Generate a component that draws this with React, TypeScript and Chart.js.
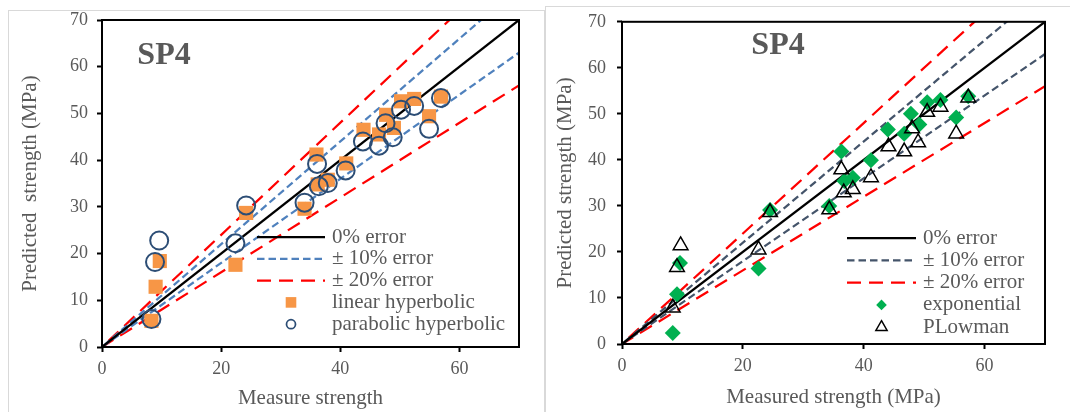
import React, { useEffect, useRef } from 'react';
import { Chart, registerables } from 'chart.js';

Chart.register(...registerables);

const FONT = '"Liberation Serif", "Times New Roman", serif';
const GREY = '#595959';

// ---------- data ----------
const axisMin = 0;
const axisMax = 70;
const xTickValues = [0, 20, 40, 60];
const yTickValues = [0, 10, 20, 30, 40, 50, 60, 70];

// reference lines (measured, predicted)
const zeroErrorLine = [[0, 0], [70, 70]];
const tenPercentLines = [[70, 77], [0, 0], [70, 63]];
const twentyPercentLines = [[70, 84], [0, 0], [70, 56]];

// left panel: linear hyperbolic (squares)
const linearHyperbolicX = [8.3, 9.0, 9.7, 22.4, 24.2, 34.0, 36.0, 36.2, 37.9, 41.0, 43.9, 46.5, 47.7, 49.0, 50.2, 52.4, 54.9, 56.9];
const linearHyperbolicY = [5.6, 12.9, 18.4, 17.6, 28.7, 29.6, 41.2, 34.8, 35.8, 39.3, 46.5, 45.5, 49.7, 46.9, 52.6, 53.1, 49.4, 53.6];

// left panel: parabolic hyperbolic (circles)
const parabolicHyperbolicX = [8.3, 8.9, 9.6, 22.4, 24.2, 34.0, 36.1, 36.4, 37.9, 40.9, 43.8, 46.5, 47.6, 48.8, 50.2, 52.4, 54.9, 56.9];
const parabolicHyperbolicY = [6.0, 18.2, 22.8, 22.2, 30.3, 30.9, 39.2, 34.4, 35.1, 37.8, 44.0, 43.1, 47.9, 44.9, 50.8, 51.6, 46.7, 53.3];

// right panel: exponential (diamonds)
const exponentialX = [8.4, 9.1, 9.6, 22.6, 24.5, 34.3, 36.3, 36.8, 38.2, 41.2, 44.0, 46.7, 47.8, 49.2, 50.5, 52.7, 55.3, 57.3];
const exponentialY = [2.4, 10.8, 17.6, 16.4, 29.1, 30.0, 41.8, 35.4, 36.1, 39.9, 46.6, 45.7, 50.0, 47.7, 52.5, 53.0, 49.2, 53.8];

// right panel: PLowman (triangles)
const plowmanX = [8.4, 9.1, 9.7, 22.6, 24.5, 34.3, 36.3, 36.7, 38.2, 41.2, 44.1, 46.7, 48.0, 49.0, 50.5, 52.7, 55.3, 57.3];
const plowmanY = [7.9, 16.7, 21.4, 20.5, 28.6, 29.2, 37.9, 32.9, 33.6, 36.2, 42.9, 41.8, 46.8, 43.8, 50.4, 51.5, 45.7, 53.5];

const toXY = (pairs: number[][]) => pairs.map(([x, y]) => ({ x, y }));
const zip = (xs: number[], ys: number[]) => xs.map((x, i) => ({ x, y: ys[i] }));

// ---------- drawing helpers ----------
function drawMarker(ctx: CanvasRenderingContext2D, style: string, x: number, y: number, r: number, fill: string, stroke: string, bw: number) {
  ctx.save();
  ctx.setLineDash([]);
  ctx.beginPath();
  if (style === 'rect') {
    const s = r * Math.SQRT1_2;
    ctx.rect(x - s, y - s, 2 * s, 2 * s);
  } else if (style === 'rectRot') {
    ctx.moveTo(x - r, y);
    ctx.lineTo(x, y - r);
    ctx.lineTo(x + r, y);
    ctx.lineTo(x, y + r);
    ctx.closePath();
  } else if (style === 'triangle') {
    ctx.moveTo(x, y - r);
    ctx.lineTo(x + r * 0.866, y + r * 0.5);
    ctx.lineTo(x - r * 0.866, y + r * 0.5);
    ctx.closePath();
  } else {
    ctx.arc(x, y, r, 0, Math.PI * 2);
  }
  if (fill && fill !== 'transparent') {
    ctx.fillStyle = fill;
    ctx.fill();
  }
  if (bw > 0) {
    ctx.strokeStyle = stroke;
    ctx.lineWidth = bw;
    ctx.stroke();
  }
  ctx.restore();
}

const decorPlugin = {
  id: 'decor',
  afterDraw(chart: any, _args: any, opts: any) {
    const ctx: CanvasRenderingContext2D = chart.ctx;
    const a = chart.chartArea;
    ctx.save();
    // plot frame
    ctx.strokeStyle = '#000';
    ctx.lineWidth = 2;
    ctx.setLineDash([]);
    ctx.strokeRect(a.left, a.top, a.right - a.left, a.bottom - a.top);
    // panel title
    ctx.fillStyle = GREY;
    ctx.font = `bold 32px ${FONT}`;
    ctx.textAlign = 'center';
    ctx.textBaseline = 'middle';
    ctx.fillText(opts.title, opts.titleX, opts.titleY);
    // legend
    const lg = opts.legend;
    chart.data.datasets.forEach((ds: any, i: number) => {
      const y = lg.y + i * lg.rowGap;
      if (ds.showLine) {
        ctx.save();
        ctx.strokeStyle = ds.borderColor;
        ctx.lineWidth = ds.borderWidth;
        ctx.setLineDash(ds.borderDash || []);
        ctx.beginPath();
        ctx.moveTo(lg.lineX0, y);
        ctx.lineTo(lg.lineX1, y);
        ctx.stroke();
        ctx.restore();
      } else {
        drawMarker(ctx, ds.pointStyle, (lg.lineX0 + lg.lineX1) / 2, y, ds.legendRadius, ds.pointBackgroundColor, ds.pointBorderColor, ds.legendBorderWidth);
      }
      ctx.fillStyle = GREY;
      ctx.font = `21px ${FONT}`;
      ctx.textAlign = 'left';
      ctx.textBaseline = 'middle';
      ctx.fillText(ds.label, lg.textX, y);
    });
    ctx.restore();
  },
};

function lineDataset(label: string, pairs: number[][], color: string, dash: number[]) {
  return {
    type: 'line',
    label,
    data: toXY(pairs),
    showLine: true,
    borderColor: color,
    borderWidth: 2.25,
    borderDash: dash,
    pointRadius: 0,
    fill: false,
    order: 5,
  };
}

function scatterDataset(label: string, data: any[], style: string, radius: number, fill: string, stroke: string, bw: number, order: number, legendRadius: number, legendBorderWidth: number) {
  return {
    type: 'scatter',
    label,
    data,
    showLine: false,
    pointStyle: style,
    pointRadius: radius,
    pointHoverRadius: radius,
    pointBackgroundColor: fill,
    pointBorderColor: stroke,
    pointBorderWidth: bw,
    backgroundColor: fill,
    borderColor: stroke,
    order,
    legendRadius,
    legendBorderWidth,
  };
}

function makeConfig(spec: any, datasets: any[]) {
  const tickFont = { family: FONT, size: 18 };
  const titleFont = { family: FONT, size: 21 };
  return {
    type: 'scatter',
    data: { datasets },
    plugins: [decorPlugin],
    options: {
      animation: false,
      responsive: false,
      events: [],
      layout: { padding: spec.padding },
      plugins: {
        legend: { display: false },
        tooltip: { enabled: false },
        decor: spec.decor,
      },
      scales: {
        x: {
          type: 'linear',
          min: axisMin,
          max: axisMax,
          afterBuildTicks: (s: any) => {
            s.ticks = xTickValues.map((v) => ({ value: v }));
          },
          afterFit: (s: any) => {
            s.height = spec.xAxisHeight;
          },
          grid: { display: true, drawOnChartArea: false, drawTicks: true, tickLength: 5, tickColor: '#000', tickWidth: 2 },
          border: { display: false },
          ticks: { color: GREY, font: tickFont, padding: 6, maxRotation: 0, autoSkip: false },
          title: { display: true, text: spec.xTitle, color: GREY, font: titleFont, padding: { top: 0, bottom: spec.xTitlePad } },
        },
        y: {
          type: 'linear',
          min: axisMin,
          max: axisMax,
          afterBuildTicks: (s: any) => {
            s.ticks = yTickValues.map((v) => ({ value: v }));
          },
          afterFit: (s: any) => {
            s.width = spec.yAxisWidth;
          },
          grid: { display: true, drawOnChartArea: false, drawTicks: true, tickLength: 5, tickColor: '#000', tickWidth: 2 },
          border: { display: false },
          ticks: { color: GREY, font: tickFont, padding: spec.yTickPad, autoSkip: false },
          title: { display: true, text: spec.yTitle, color: GREY, font: titleFont, padding: { top: spec.yTitlePad, bottom: 0 } },
        },
      },
    },
  };
}

function ChartCanvas({ width, height, left, build }: { width: number; height: number; left: number; build: () => any }) {
  const ref = useRef<HTMLCanvasElement | null>(null);
  useEffect(() => {
    if (!ref.current) return;
    const chart = new Chart(ref.current, build());
    return () => chart.destroy();
  }, []);
  return <canvas ref={ref} width={width} height={height} style={{ position: 'absolute', left, top: 0, width, height }} />;
}

function buildLeft() {
  const datasets = [
    lineDataset('0% error', zeroErrorLine, '#000000', []),
    lineDataset('\u00b1 10% error', tenPercentLines, '#4f81bd', [7.5, 4]),
    lineDataset('\u00b1 20% error', twentyPercentLines, '#ff0000', [14, 8]),
    scatterDataset('linear hyperbolic', zip(linearHyperbolicX, linearHyperbolicY), 'rect', 10, '#f79646', '#f79646', 0, 2, 7.5, 0),
    scatterDataset('parabolic hyperbolic', zip(parabolicHyperbolicX, parabolicHyperbolicY), 'circle', 9, 'transparent', '#2c4d75', 2, 1, 4.5, 1.75),
  ];
  return makeConfig(
    {
      padding: { left: 0, right: 25, top: 20, bottom: 0 },
      xAxisHeight: 65,
      yAxisWidth: 102,
      yTickPad: 9,
      xTitle: 'Measure strength',
      yTitle: 'Predicted  strength (MPa)',
      xTitlePad: 1,
      yTitlePad: 18,
      decor: {
        title: 'SP4',
        titleX: 164,
        titleY: 56,
        legend: { lineX0: 257, lineX1: 325, textX: 332, y: 237, rowGap: 21.8 },
      },
    },
    datasets
  );
}

function buildRight() {
  const datasets = [
    lineDataset('0% error', zeroErrorLine, '#000000', []),
    lineDataset('\u00b1 10% error', tenPercentLines, '#44546a', [7.5, 4]),
    lineDataset('\u00b1 20% error', twentyPercentLines, '#ff0000', [14, 8]),
    scatterDataset('exponential', zip(exponentialX, exponentialY), 'rectRot', 8, '#00b050', '#00b050', 0, 2, 5.3, 0),
    scatterDataset('PLowman', zip(plowmanX, plowmanY), 'triangle', 8.5, 'transparent', '#000000', 1.5, 1, 6.5, 1.5),
  ];
  return makeConfig(
    {
      padding: { left: 0, right: 25, top: 16, bottom: 0 },
      xAxisHeight: 68,
      yAxisWidth: 76,
      yTickPad: 11,
      xTitle: 'Measured strength (MPa)',
      yTitle: 'Predicted strength (MPa)',
      xTitlePad: 2,
      yTitlePad: 7,
      decor: {
        title: 'SP4',
        titleX: 232,
        titleY: 46,
        legend: { lineX0: 301, lineX1: 370, textX: 377, y: 238, rowGap: 22.3 },
      },
    },
    datasets
  );
}

export default function App() {
  return (
    <div style={{ position: 'absolute', left: 0, top: 0, width: 1070, height: 412, background: '#ffffff', overflow: 'hidden' }}>
      <div style={{ position: 'absolute', left: 8, top: 10, width: 537, height: 440, border: '1px solid #d9d9d9', boxSizing: 'border-box' }} />
      <div style={{ position: 'absolute', left: 545, top: 6, width: 560, height: 440, border: '1px solid #d9d9d9', boxSizing: 'border-box' }} />
      <ChartCanvas width={544} height={412} left={0} build={buildLeft} />
      <ChartCanvas width={524} height={412} left={546} build={buildRight} />
    </div>
  );
}
